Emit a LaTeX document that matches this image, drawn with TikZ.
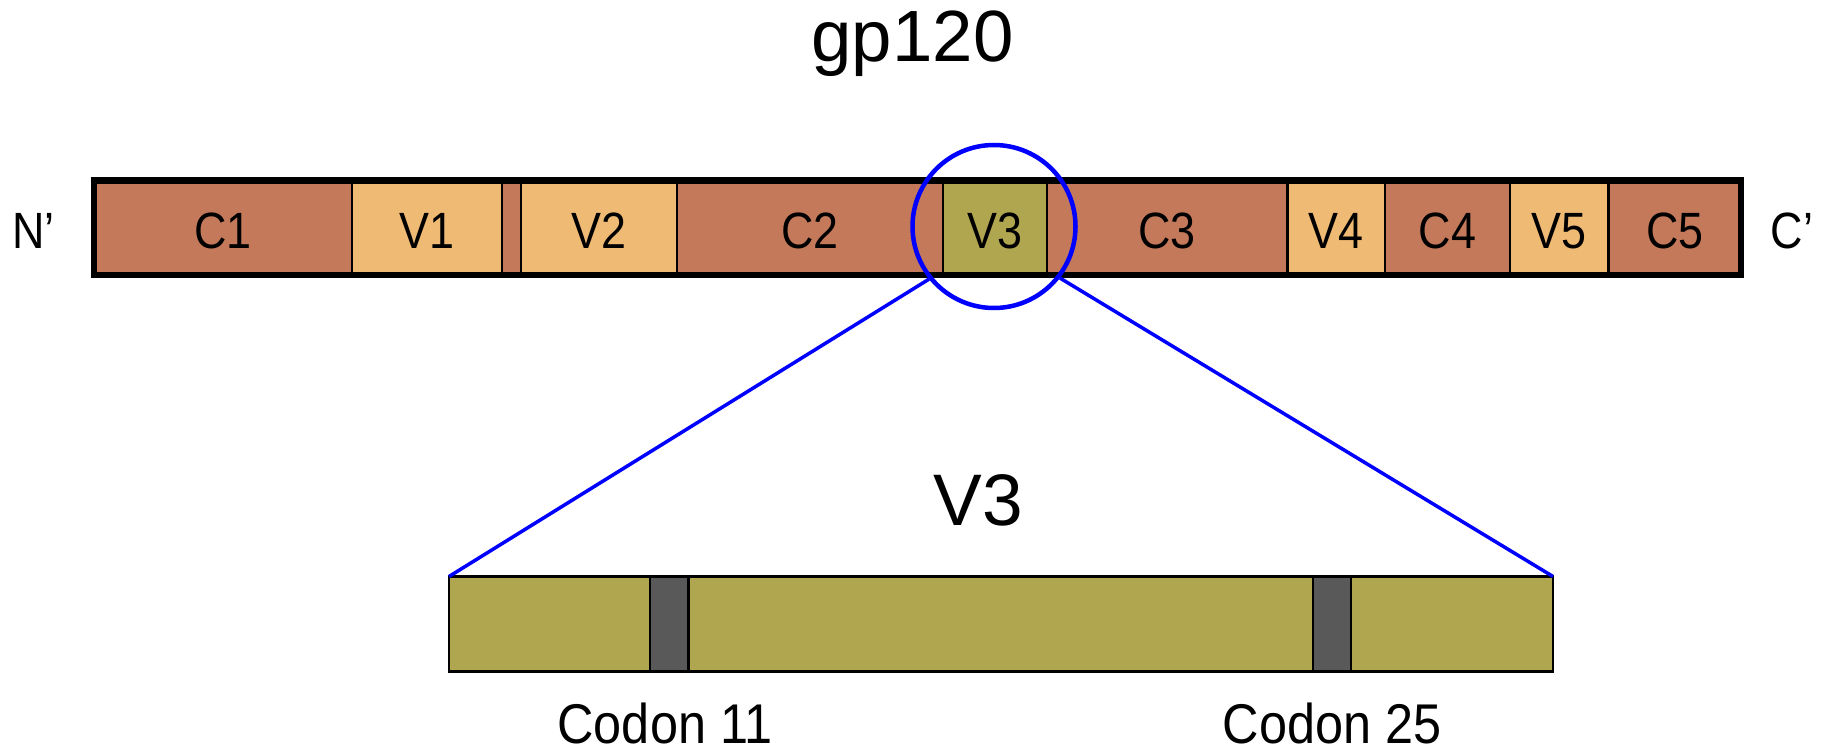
\documentclass[tikz,border=0pt]{standalone}
\usepackage{fontspec}
\setmainfont{Liberation Sans}
\newfontfamily\narrowfont[FakeStretch=0.88]{Liberation Sans}
\newfontfamily\codonfont[FakeStretch=0.9]{Liberation Sans}
\usepackage{tikz}
\definecolor{constcol}{RGB}{196,121,90}
\definecolor{varcol}{RGB}{239,186,116}
\definecolor{loopcol}{RGB}{176,166,80}
\definecolor{codoncol}{RGB}{89,89,89}

\begin{document}
\begin{tikzpicture}[x=1pt, y=-1pt,
        seg/.style={draw, line width=2.5pt, inner sep=0pt, outer sep=0pt, minimum height=94pt, anchor=west,
            text height=41pt, text depth=0pt, font=\narrowfont\fontsize{51}{51}\selectfont},
        band/.style={draw, line width=2.5pt, inner sep=0pt, outer sep=0pt, minimum height=95pt, anchor=north west},
        lbl/.style={anchor=base, inner sep=0pt, font=\narrowfont\fontsize{51}{51}\selectfont},
        codon/.style={anchor=base, inner sep=0pt, font=\codonfont\fontsize{56}{56}\selectfont}]
            \useasboundingbox (0,0) rectangle (1829,749);
            % gp120 chain
            \draw (94, 227.5) node[seg, fill=constcol, minimum width=258pt](c1){C1};
            \draw (352, 227.5) node[seg, fill=varcol, minimum width=150pt](v1){V1};
            \draw (502, 227.5) node[seg, fill=constcol, minimum width=19pt](c1b){};
            \draw (521, 227.5) node[seg, fill=varcol, minimum width=156pt](v2){V2};
            \draw (677, 227.5) node[seg, fill=constcol, minimum width=266pt](c2){C2};
            \draw (943, 227.5) node[seg, fill=loopcol, minimum width=104pt](v3){V3};
            \draw (1047, 227.5) node[seg, fill=constcol, minimum width=240.5pt](c3){C3};
            \draw (1287.5, 227.5) node[seg, fill=varcol, minimum width=97.5pt](v4){V4};
            \draw (1385, 227.5) node[seg, fill=constcol, minimum width=125pt](c4){C4};
            \draw (1510, 227.5) node[seg, fill=varcol, minimum width=98.5pt](v5){V5};
            \draw (1608.5, 227.5) node[seg, fill=constcol, minimum width=132.5pt](c5){C5};
            \draw[line width=6pt] (c1.north west) rectangle (c5.south east);
            \draw (912.5, 62) node[anchor=base, inner sep=0pt, font=\fontsize{72.6}{72.6}\selectfont](title){gp120};
            \draw (33.5, 248) node[lbl](nterm){N’};
            \draw (1792, 248) node[lbl](cterm){C’};
            % V3 close-up
            \draw (449, 576.5) node[band, fill=loopcol, minimum width=1104pt](loop){};
            \draw (650, 576.5) node[band, fill=codoncol, minimum width=38.5pt](cod11){};
            \draw (1313, 576.5) node[band, fill=codoncol, minimum width=38pt](cod25){};
            \draw (978, 525) node[anchor=base, inner sep=0pt, font=\fontsize{73}{73}\selectfont](looptitle){V3};
            \draw (665, 743) node[codon](lab11){Codon 11};
            \draw (1332, 743) node[codon](lab25){Codon 25};
            \draw (994, 226.5) node[circle, draw=blue, line width=4.5pt, minimum size=163pt, inner sep=0pt](zoom){};
            \draw[blue, line width=3.5pt] (zoom.219) -- (loop.north west);
            \draw[blue, line width=3.5pt] (zoom.322) -- (loop.north east);
        \end{tikzpicture}
\end{document}
